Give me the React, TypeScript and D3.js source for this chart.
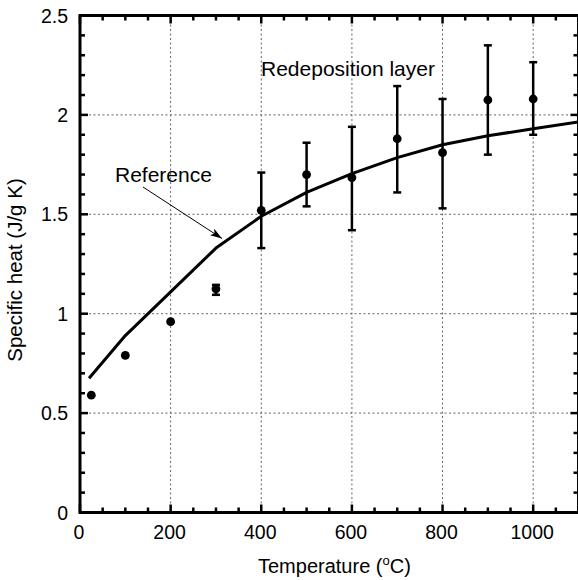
import React from 'react';
import * as d3 from 'd3';

// measured specific heat, redeposition layer
const temps = [25, 100, 200, 300, 400, 500, 600, 700, 800, 900, 1000];
const heat = [0.59, 0.79, 0.96, 1.125, 1.52, 1.70, 1.685, 1.88, 1.81, 2.075, 2.08];
const errLow = [null, null, null, 1.095, 1.33, 1.54, 1.42, 1.61, 1.53, 1.80, 1.90];
const errHigh = [null, null, null, 1.145, 1.71, 1.86, 1.94, 2.145, 2.08, 2.35, 2.265];

// reference curve
const refTemps = [20, 100, 200, 300, 400, 500, 600, 700, 800, 900, 1000, 1100];
const refHeat = [0.675, 0.89, 1.11, 1.33, 1.49, 1.61, 1.705, 1.785, 1.85, 1.895, 1.93, 1.965];

const xMajor = [0, 200, 400, 600, 800, 1000];
const yMajor = [0, 0.5, 1, 1.5, 2, 2.5];
const yTickLabels = ['0', '0.5', '1', '1.5', '2', '2.5'];

const W = 578;
const H = 580;
const FONT = '"Liberation Sans", Arial, Helvetica, sans-serif';

const App = () => {
  const x = d3.scaleLinear().domain([0, 1100]).range([80, 578.5]);
  const y = d3.scaleLinear().domain([0, 2.5]).range([512.5, 15.5]);

  const [x0, x1] = x.range();
  const [y0, y1] = y.range();

  const xMinor = d3.range(50, 1100, 50).filter(v => v % 200 !== 0);
  const yMinor = d3.range(1, 25).map(v => v / 10).filter(v => Math.round(v * 10) % 5 !== 0);

  const refLine = d3.line<number>()
    .x((_, i) => x(refTemps[i]))
    .y(d => y(d));

  const majorLen = 8;
  const minorLen = 5;

  return (
    <svg width={W} height={H} style={{ position: 'fixed', left: 0, top: 0, background: '#fff' }}
      fontFamily={FONT}>
      {/* grid */}
      <g stroke="#666" strokeWidth={1} strokeDasharray="2,2.5">
        {xMajor.filter(v => v > 0).map(v => (
          <line key={'gx' + v} x1={x(v)} x2={x(v)} y1={y0} y2={y1} />
        ))}
        {yMajor.filter(v => v > 0 && v < 2.5).map(v => (
          <line key={'gy' + v} x1={x0} x2={x1} y1={y(v)} y2={y(v)} />
        ))}
      </g>

      {/* reference line */}
      <path d={refLine(refHeat) || ''} fill="none" stroke="#000" strokeWidth={3} strokeLinejoin="round" />

      {/* error bars */}
      <g stroke="#000" strokeWidth={2.5}>
        {temps.map((t, i) => {
          const lo = errLow[i];
          const hi = errHigh[i];
          if (lo == null || hi == null) return null;
          const cx = x(t);
          return (
            <g key={'e' + i}>
              <line x1={cx} x2={cx} y1={y(lo)} y2={y(hi)} />
              <line x1={cx - 4} x2={cx + 4} y1={y(lo)} y2={y(lo)} />
              <line x1={cx - 4} x2={cx + 4} y1={y(hi)} y2={y(hi)} />
            </g>
          );
        })}
      </g>

      {/* points */}
      {temps.map((t, i) => (
        <circle key={'p' + i} cx={x(t)} cy={y(heat[i])} r={4.4} fill="#000" />
      ))}

      {/* ticks, all pointing inward */}
      <g stroke="#000" strokeWidth={2.5}>
        {xMajor.map(v => (
          <g key={'tx' + v}>
            <line x1={x(v)} x2={x(v)} y1={y0} y2={y0 - majorLen} />
            <line x1={x(v)} x2={x(v)} y1={y1} y2={y1 + majorLen} />
          </g>
        ))}
        {xMinor.map(v => (
          <g key={'mx' + v}>
            <line x1={x(v)} x2={x(v)} y1={y0} y2={y0 - minorLen} />
            <line x1={x(v)} x2={x(v)} y1={y1} y2={y1 + minorLen} />
          </g>
        ))}
        {yMajor.map(v => (
          <g key={'ty' + v}>
            <line x1={x0} x2={x0 + majorLen} y1={y(v)} y2={y(v)} />
            <line x1={x1} x2={x1 - majorLen} y1={y(v)} y2={y(v)} />
          </g>
        ))}
        {yMinor.map(v => (
          <g key={'my' + v}>
            <line x1={x0} x2={x0 + minorLen} y1={y(v)} y2={y(v)} />
            <line x1={x1} x2={x1 - minorLen} y1={y(v)} y2={y(v)} />
          </g>
        ))}
      </g>

      {/* frame */}
      <rect x={x0} y={y1} width={x1 - x0} height={y0 - y1} fill="none" stroke="#000" strokeWidth={3} />

      {/* tick labels */}
      <g fontSize={19.5} fill="#000">
        {xMajor.map(v => (
          <text key={'lx' + v} x={x(v) - 1} y={539} textAnchor="middle">{v}</text>
        ))}
        {yMajor.map((v, i) => (
          <text key={'ly' + v} x={68} y={y(v) + 7} textAnchor="end">{yTickLabels[i]}</text>
        ))}
      </g>

      {/* axis titles */}
      <text x={258} y={573} fontSize={20} fill="#000">
        Temperature (<tspan fontSize={13} dy={-8}>o</tspan><tspan dy={8}>C)</tspan>
      </text>
      <text transform="translate(21.5,270) rotate(-90)" textAnchor="middle" fontSize={20.5} fill="#000">
        Specific heat (J/g K)
      </text>

      {/* annotations */}
      <text x={261} y={76} fontSize={21} fill="#000">Redeposition layer</text>
      <text x={115} y={182} fontSize={21} fill="#000">Reference</text>
      <defs>
        <marker id="arrowhead" viewBox="0 0 12 8" refX={12} refY={4} markerWidth={12} markerHeight={8}
          markerUnits="userSpaceOnUse" orient="auto">
          <path d="M0,0 L12,4 L0,8 L3,4 Z" fill="#000" />
        </marker>
      </defs>
      <line x1={143} y1={187} x2={222} y2={238.5} stroke="#000" strokeWidth={1} markerEnd="url(#arrowhead)" />
    </svg>
  );
};

export default App;
